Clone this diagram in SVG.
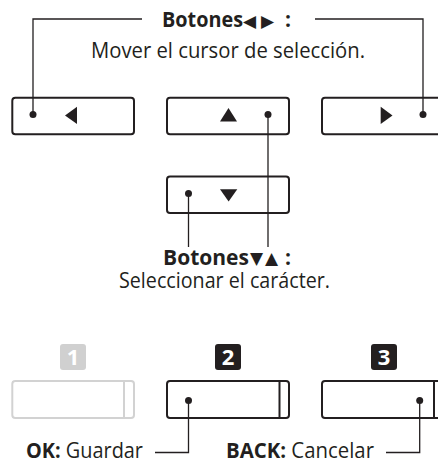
<svg xmlns="http://www.w3.org/2000/svg" width="438" height="462" viewBox="0 0 438 462">
<style>
.btn{fill:#fff;stroke:#231f20;stroke-width:2}
.btn-off{fill:#fff;stroke:#d2d2d2;stroke-width:2}
.ln{fill:none;stroke:#231f20;stroke-width:1.3}
.dot{fill:#231f20}
.tri{fill:#231f20}
.t{font-family:"Open Sans","Noto Sans",sans-serif;fill:#231f20;font-size:21px}
.b{font-weight:bold}
.sym{font-family:"DejaVu Sans",sans-serif;font-size:17px;font-weight:normal}
.badge{fill:#231f20}
.badge-off{fill:#d0d0d0}
.num{font-family:"Open Sans","Noto Sans",sans-serif;font-weight:bold;font-size:22px;fill:#fff;text-anchor:middle}
</style>
<rect width="438" height="462" fill="#fff"/>

<g id="btn-left">
<rect class="btn" x="12.3" y="97.7" width="121.7" height="36.5" rx="3"/>
<polygon class="tri" points="77,106.8 77,124 65,115.4"/>
</g>
<g id="btn-up">
<rect class="btn" x="167" y="97.7" width="122" height="36.5" rx="3"/>
<polygon class="tri" points="220,121.5 237,121.5 228.5,108"/>
</g>
<g id="btn-right">
<rect class="btn" x="322" y="97.7" width="130" height="36.5" rx="3"/>
<polygon class="tri" points="380.7,106.8 380.7,124 392.5,115.4"/>
</g>
<g id="btn-down">
<rect class="btn" x="167" y="176.5" width="122" height="36.5" rx="3"/>
<polygon class="tri" points="220,189.3 237.3,189.3 228.6,201.5"/>
</g>

<g id="btn-1">
<rect class="badge-off" x="60" y="344" width="26" height="26" rx="3"/>
<text class="num" x="73" y="365">1</text>
<rect class="btn-off" x="12.3" y="381" width="121.7" height="37" rx="3"/>
<line x1="124" y1="381" x2="124" y2="418" stroke="#d2d2d2" stroke-width="2"/>
</g>
<g id="btn-2">
<rect class="badge" x="215" y="344" width="26" height="26" rx="3"/>
<text class="num" x="228" y="365">2</text>
<rect class="btn" x="167" y="381" width="122" height="37" rx="3"/>
<line x1="279.5" y1="381" x2="279.5" y2="418" stroke="#231f20" stroke-width="2"/>
</g>
<g id="btn-3">
<rect class="badge" x="371" y="344" width="26" height="26" rx="3"/>
<text class="num" x="384" y="365">3</text>
<rect class="btn" x="322" y="381" width="130" height="37" rx="3"/>
<line x1="434" y1="381" x2="434" y2="418" stroke="#231f20" stroke-width="2"/>
</g>

<g id="connectors">
<polyline class="ln" points="33,114.5 33,19 142,19"/>
<polyline class="ln" points="423,114.5 423,19 315,19"/>
<polyline class="ln" points="268,114.5 268,247"/>
<polyline class="ln" points="188.5,193.5 188.5,247"/>
<polyline class="ln" points="188.5,400.5 188.5,452.5 155,452.5"/>
<polyline class="ln" points="419.7,400.5 419.7,452.5 386,452.5"/>
<circle class="dot" cx="33" cy="114.5" r="3.5"/>
<circle class="dot" cx="423" cy="114.5" r="3.5"/>
<circle class="dot" cx="268" cy="114.5" r="3.5"/>
<circle class="dot" cx="188.5" cy="193.5" r="3.5"/>
<circle class="dot" cx="188.5" cy="400.5" r="3.5"/>
<circle class="dot" cx="419.7" cy="400.5" r="3.5"/>
</g>

<g id="labels">
<text class="t b" x="162" y="27"><tspan textLength="81" lengthAdjust="spacingAndGlyphs">Botones</tspan><tspan class="sym" x="243" y="26.5">◀</tspan><tspan class="sym" x="261" y="26.5">▶</tspan><tspan x="285" y="27">:</tspan></text>
<text class="t" x="91" y="58" textLength="274" lengthAdjust="spacingAndGlyphs">Mover el cursor de selección.</text>
<text class="t b" x="163" y="265"><tspan textLength="86" lengthAdjust="spacingAndGlyphs">Botones</tspan><tspan class="sym" x="250" y="264" font-size="15">▼</tspan><tspan class="sym" x="265" y="264" font-size="15">▲</tspan><tspan x="285" y="265">:</tspan></text>
<text class="t" x="119" y="288" textLength="211" lengthAdjust="spacingAndGlyphs">Seleccionar el carácter.</text>
<text class="t" x="26" y="457.5" textLength="117" lengthAdjust="spacingAndGlyphs"><tspan class="b">OK:</tspan> Guardar</text>
<text class="t" x="226" y="457.5" textLength="148" lengthAdjust="spacingAndGlyphs"><tspan class="b">BACK:</tspan> Cancelar</text>
</g>
</svg>
